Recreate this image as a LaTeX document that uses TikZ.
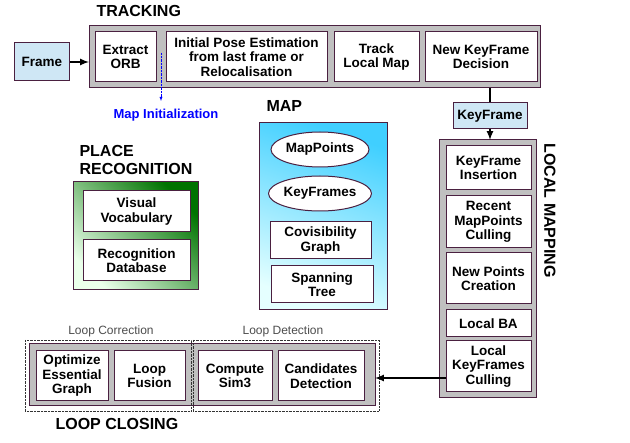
\documentclass[tikz,border=0pt]{standalone}
\usepackage{fontspec}
\setmainfont{Liberation Sans}
\usetikzlibrary{shapes.geometric}
\definecolor{edge}{HTML}{4A2040}
\definecolor{gbox}{HTML}{C0C0C0}
\definecolor{lblue}{HTML}{CFE7F5}
\begin{document}
\begin{tikzpicture}[x=1pt,y=-1pt,
  box/.style={draw=edge,line width=1pt,fill=white,align=center,font=\fontsize{13.5}{14.5}\selectfont\bfseries,inner sep=0pt},
  grp/.style={draw=edge,line width=1pt,fill=gbox},
  title/.style={font=\fontsize{16}{18}\selectfont\bfseries,align=left},
  arr/.style={line width=2pt,-latex}]
\useasboundingbox (0,0) rectangle (630,443);
% Tracking
\node[title,anchor=west] (ttrk) at (93,11) {TRACKING};
\draw[grp] (89,26) rectangle (540,88);
\node[box,minimum width=61,minimum height=50] (orb) at (125.5,57) {Extract\\ORB};
\node[box,minimum width=161,minimum height=50] (ipe) at (246.5,57) {Initial Pose Estimation\\from last frame or\\Relocalisation};
\node[box,minimum width=85,minimum height=50] (tlm) at (376.5,57) {Track\\Local Map};
\node[box,minimum width=112,minimum height=50] (nkd) at (481,57) {New KeyFrame\\Decision};
\node[box,fill=lblue,minimum width=55,minimum height=38] (frame) at (42,62) {Frame};
\coordinate (trkin) at (89,62);
\draw[arr] (frame) -- (trkin);
\coordinate (mi0) at (161,53);
\coordinate (mi1) at (161,101);
\node[font=\fontsize{13}{14}\selectfont\bfseries,text=blue] (mapinit) at (166,115) {Map Initialization};
\draw[blue,densely dotted,-latex] (mi0) -- (mi1);
% KeyFrame
\node[box,fill=lblue,minimum width=74,minimum height=26] (kf) at (490,116) {KeyFrame};
\coordinate (tb) at (490,88);
\draw[line width=2pt] (tb) -- (kf);
% Local mapping
\draw[grp] (439,140) rectangle (536,398);
\coordinate (lmtop) at (490,140);
\draw[arr] (kf) -- (lmtop);
\node[title,rotate=-90,anchor=west] (tlmap) at (550,140) {LOCAL MAPPING};
\node[box,minimum width=85,minimum height=44] (kfi) at (488.5,168) {KeyFrame\\Insertion};
\node[box,minimum width=85,minimum height=52] (rmc) at (488.5,222) {Recent\\MapPoints\\Culling};
\node[box,minimum width=85,minimum height=51] (npc) at (488.5,278.5) {New Points\\Creation};
\node[box,minimum width=85,minimum height=27] (lba) at (488.5,323.5) {Local BA};
\node[box,minimum width=85,minimum height=51] (lkc) at (488.5,366.5) {Local\\KeyFrames\\Culling};
% Map
\node[title,anchor=west] (tmap) at (263,106) {MAP};
\shade[left color=cyan!75!blue!75,right color=cyan!10,shading angle=-20] (259,123) rectangle (387,310);
\draw[edge,line width=1pt] (259,123) rectangle (387,310);
\node[box,ellipse,minimum width=98,minimum height=35] (mp) at (320,149.5) {MapPoints};
\node[box,ellipse,minimum width=98,minimum height=35] (kfs) at (320,193.5) {KeyFrames};
\node[box,minimum width=101,minimum height=37] (cov) at (320.5,240.5) {Covisibility\\Graph};
\node[box,minimum width=102,minimum height=37] (spt) at (322,284.5) {Spanning\\Tree};
% Place recognition
\node[title,anchor=west] (tpr) at (76,160) {PLACE\\RECOGNITION};
\shade[left color=green!45!black,right color=green!8,shading angle=-45] (73,182) rectangle (198,290);
\draw[edge,line width=1pt] (73,182) rectangle (198,290);
\node[box,minimum width=107,minimum height=41] (vv) at (136.5,211.5) {Visual\\Vocabulary};
\node[box,minimum width=107,minimum height=41] (rd) at (136.5,260.5) {Recognition\\Database};
% Loop closing
\draw[grp] (29,344) rectangle (375,406);
\draw[densely dotted,black!80] (25,340) rectangle (191,411);
\draw[densely dotted,black!80] (193,340) rectangle (379,411);
\node[box,minimum width=72,minimum height=50] (oeg) at (72,376) {Optimize\\Essential\\Graph};
\node[box,minimum width=71,minimum height=50] (lf) at (149.5,376) {Loop\\Fusion};
\node[box,minimum width=74,minimum height=50] (cs3) at (235,376) {Compute\\Sim3};
\node[box,minimum width=86,minimum height=50] (cd) at (321,376) {Candidates\\Detection};
\node[font=\fontsize{12}{13}\selectfont,text=black!70] (lcor) at (111,331) {Loop Correction};
\node[font=\fontsize{12}{13}\selectfont,text=black!70] (ldet) at (283,331) {Loop Detection};
\node[title,anchor=west] (tlc) at (52,424) {LOOP CLOSING};
\coordinate (lcin) at (375,378);
\draw[arr] (lkc.west |- lcin) -- (lcin);
\end{tikzpicture}
\end{document}
